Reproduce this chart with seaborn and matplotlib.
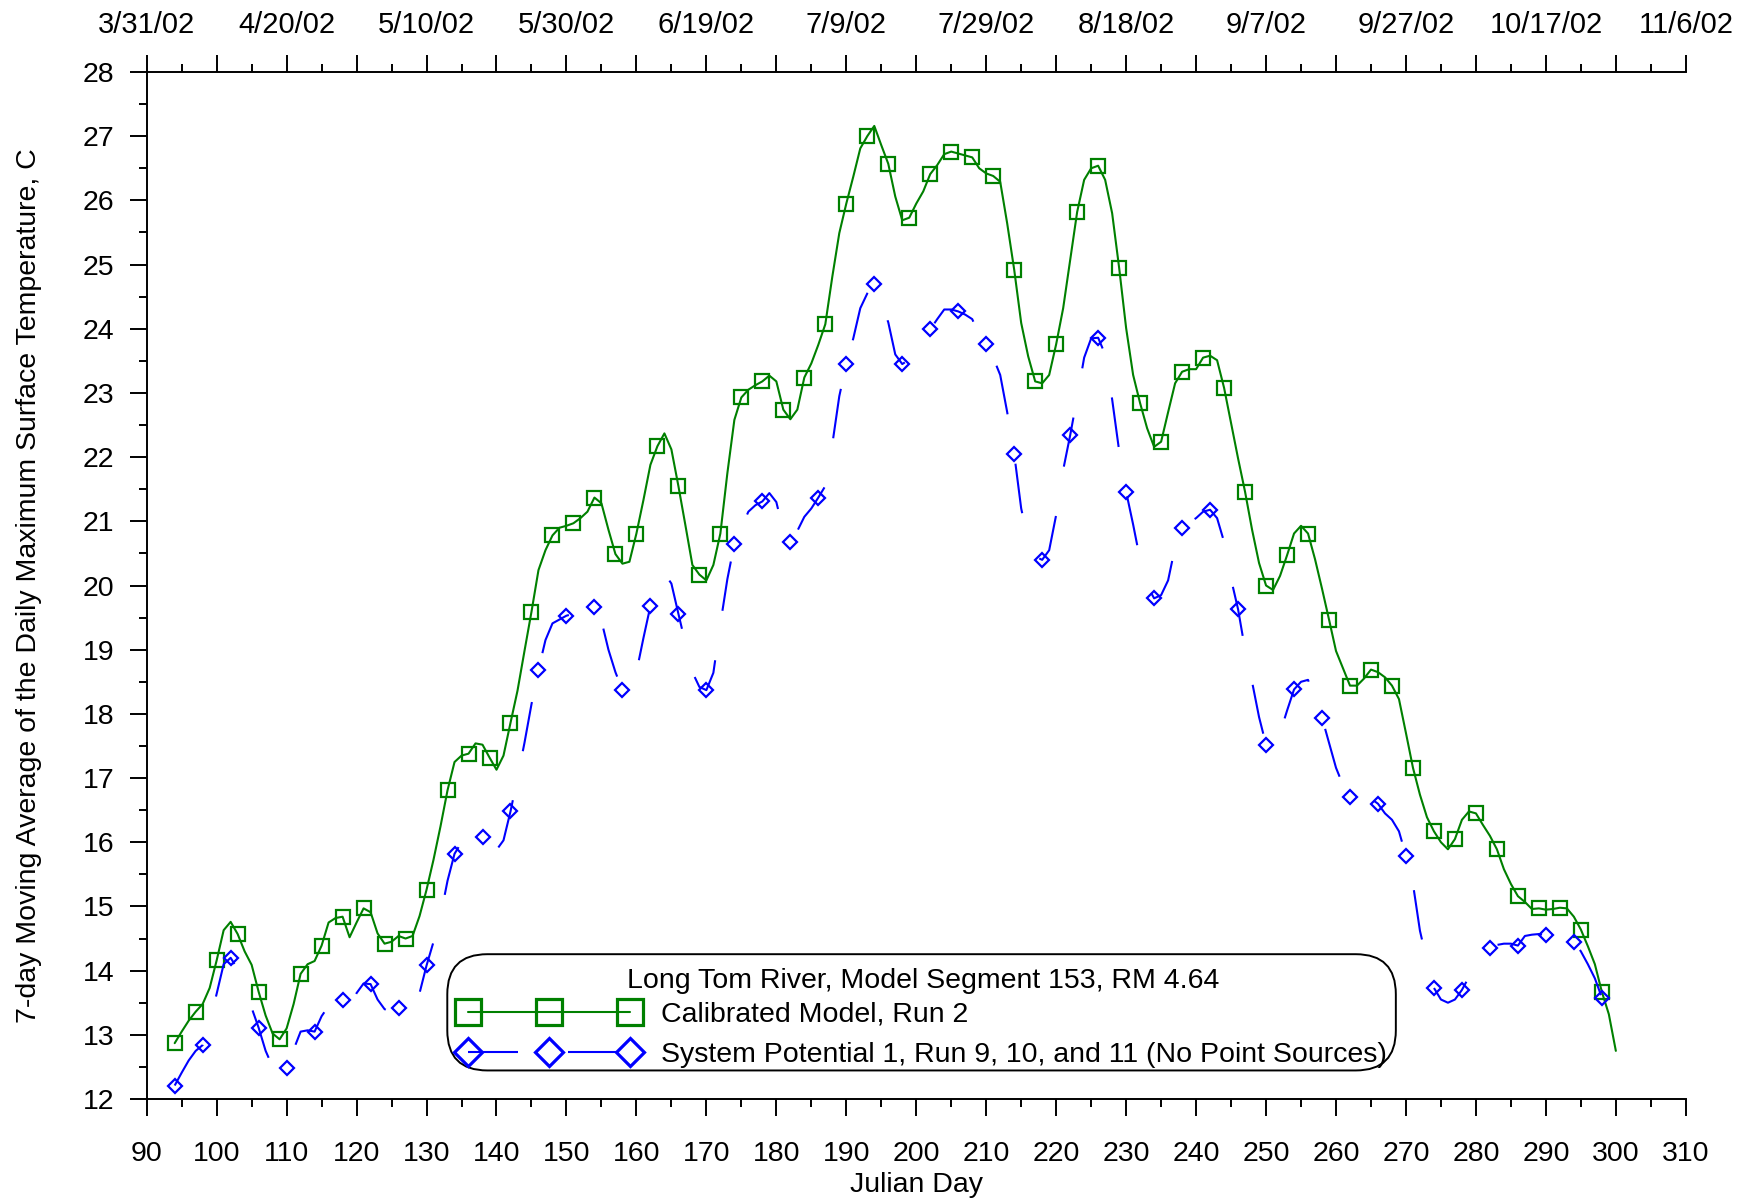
import numpy as np
import pandas as pd
import matplotlib
matplotlib.use("Agg")
import matplotlib.pyplot as plt
from matplotlib.lines import Line2D
from matplotlib.patches import FancyBboxPatch
from matplotlib.ticker import FixedLocator, MultipleLocator
import seaborn as sns

# ---------------- data ----------------
green_days = [94, 95, 96, 97, 98, 99, 100, 101, 102, 103, 104, 105, 106, 107, 108, 109, 110,
              111, 112, 113, 114, 115, 116, 117, 118, 119, 120, 121, 122, 123, 124, 125, 126,
              127, 128, 129, 130, 131, 132, 133, 134, 135, 136, 137, 138, 139, 140, 141, 142,
              143, 144, 145, 146, 147, 148, 149, 150, 151, 152, 153, 154, 155, 156, 157, 158,
              159, 160, 161, 162, 163, 164, 165, 166, 167, 168, 169, 170, 171, 172, 173, 174,
              175, 176, 177, 178, 179, 180, 181, 182, 183, 184, 185, 186, 187, 188, 189, 190,
              191, 192, 193, 194, 195, 196, 197, 198, 199, 200, 201, 202, 203, 204, 205, 206,
              207, 208, 209, 210, 211, 212, 213, 214, 215, 216, 217, 218, 219, 220, 221, 222,
              223, 224, 225, 226, 227, 228, 229, 230, 231, 232, 233, 234, 235, 236, 237, 238,
              239, 240, 241, 242, 243, 244, 245, 246, 247, 248, 249, 250, 251, 252, 253, 254,
              255, 256, 257, 258, 259, 260, 261, 262, 263, 264, 265, 266, 267, 268, 269, 270,
              271, 272, 273, 274, 275, 276, 277, 278, 279, 280, 281, 282, 283, 284, 285, 286,
              287, 288, 289, 290, 291, 292, 293, 294, 295, 296, 297, 298, 299, 300]
green_temp = [12.87, 13.05, 13.22, 13.36, 13.48, 13.73, 14.16, 14.63, 14.76, 14.57, 14.30, 14.09,
              13.67, 13.30, 13.02, 12.93, 13.10, 13.48, 13.95, 14.10, 14.15, 14.39, 14.75, 14.82,
              14.84, 14.52, 14.75, 14.97, 14.91, 14.58, 14.42, 14.45, 14.54, 14.50, 14.54, 14.85,
              15.26, 15.73, 16.25, 16.81, 17.25, 17.35, 17.38, 17.54, 17.52, 17.32, 17.13, 17.35,
              17.86, 18.36, 18.98, 19.59, 20.24, 20.55, 20.78, 20.90, 20.93, 20.97, 21.05, 21.15,
              21.37, 21.28, 20.87, 20.49, 20.34, 20.37, 20.81, 21.33, 21.88, 22.17, 22.37, 22.12,
              21.55, 20.94, 20.32, 20.17, 20.08, 20.32, 20.81, 21.75, 22.58, 22.93, 23.05, 23.12,
              23.18, 23.27, 23.18, 22.74, 22.59, 22.74, 23.24, 23.46, 23.75, 24.07, 24.81, 25.49,
              25.95, 26.37, 26.81, 27.00, 27.16, 26.86, 26.57, 26.06, 25.69, 25.73, 25.95, 26.14,
              26.41, 26.55, 26.72, 26.76, 26.73, 26.70, 26.67, 26.50, 26.42, 26.38, 26.29, 25.64,
              24.92, 24.09, 23.57, 23.18, 23.15, 23.28, 23.76, 24.32, 25.07, 25.82, 26.32, 26.50,
              26.54, 26.32, 25.80, 24.95, 24.01, 23.28, 22.84, 22.45, 22.16, 22.24, 22.70, 23.15,
              23.33, 23.37, 23.37, 23.55, 23.58, 23.51, 23.08, 22.53, 21.98, 21.46, 20.87, 20.35,
              20.00, 19.93, 20.15, 20.47, 20.81, 20.93, 20.81, 20.41, 19.95, 19.47, 18.98, 18.71,
              18.44, 18.44, 18.55, 18.69, 18.65, 18.57, 18.44, 18.23, 17.70, 17.16, 16.74, 16.39,
              16.17, 16.00, 15.89, 16.05, 16.35, 16.48, 16.45, 16.27, 16.10, 15.89, 15.58, 15.35,
              15.16, 15.07, 14.96, 14.97, 14.95, 14.96, 14.98, 14.97, 14.84, 14.64, 14.38, 14.10,
              13.67, 13.32, 12.75]

blue_days = list(range(94, 300))
blue_temp = [12.21, 12.41, 12.60, 12.75, 12.84, 13.20, 13.64, 14.10, 14.20, 14.02, 13.70, 13.42,
             13.11, 12.75, 12.50, 12.45, 12.48, 12.77, 13.05, 13.07, 13.05, 13.29, 13.45, 13.55,
             13.54, 13.42, 13.65, 13.80, 13.79, 13.55, 13.40, 13.35, 13.42, 13.35, 13.39, 13.65,
             14.08, 14.45, 14.85, 15.40, 15.82, 16.00, 16.05, 16.08, 16.08, 15.95, 15.88, 16.03,
             16.48, 17.00, 17.55, 18.15, 18.69, 19.15, 19.41, 19.47, 19.53, 19.56, 19.58, 19.62,
             19.66, 19.45, 19.00, 18.65, 18.37, 18.45, 18.65, 19.18, 19.68, 20.00, 20.19, 20.03,
             19.56, 19.10, 18.65, 18.42, 18.37, 18.64, 19.40, 20.10, 20.65, 20.90, 21.15, 21.25,
             21.31, 21.44, 21.30, 20.85, 20.68, 20.85, 21.07, 21.20, 21.37, 21.55, 22.20, 22.95,
             23.45, 23.85, 24.32, 24.55, 24.70, 24.40, 24.10, 23.60, 23.45, 23.52, 23.60, 23.80,
             23.99, 24.15, 24.30, 24.30, 24.27, 24.22, 24.15, 23.90, 23.76, 23.55, 23.28, 22.70,
             22.05, 21.20, 20.70, 20.45, 20.40, 20.55, 21.10, 21.80, 22.34, 22.93, 23.55, 23.85,
             23.86, 23.60, 22.90, 22.10, 21.46, 20.95, 20.40, 20.00, 19.80, 19.85, 20.08, 20.60,
             20.90, 20.98, 21.05, 21.15, 21.18, 21.05, 20.68, 20.10, 19.63, 19.00, 18.50, 17.95,
             17.52, 17.48, 17.70, 18.05, 18.38, 18.50, 18.53, 18.23, 17.94, 17.55, 17.16, 16.89,
             16.70, 16.65, 16.70, 16.68, 16.60, 16.45, 16.35, 16.17, 15.79, 15.35, 14.62, 14.15,
             13.73, 13.55, 13.50, 13.55, 13.70, 13.90, 14.05, 14.26, 14.36, 14.40, 14.42, 14.42,
             14.39, 14.54, 14.56, 14.57, 14.55, 14.60, 14.67, 14.55, 14.45, 14.30, 14.10, 13.88,
             13.58, 13.11]

x_ticks = list(range(90, 311, 10))
y_ticks = list(range(12, 29))
date_tick_days = list(range(90, 311, 20))
date_labels = ["3/31/02", "4/20/02", "5/10/02", "5/30/02", "6/19/02", "7/9/02",
               "7/29/02", "8/18/02", "9/7/02", "9/27/02", "10/17/02", "11/6/02"]

green_label = "Calibrated Model, Run 2"
blue_label = "System Potential 1, Run 9, 10, and 11 (No Point Sources)"
legend_title = "Long Tom River, Model Segment 153, RM 4.64"

# ---------------- style ----------------
sns.set_style("white")
plt.rcParams["font.family"] = ["Liberation Sans", "DejaVu Sans"]
plt.rcParams["lines.scale_dashes"] = False
plt.rcParams["text.color"] = "black"
plt.rcParams["axes.labelcolor"] = "black"
plt.rcParams["xtick.color"] = "black"
plt.rcParams["ytick.color"] = "black"

GREEN = "#008000"
BLUE = "#0000FF"
FS = 20.5

green_df = pd.DataFrame({"day": green_days, "temp": green_temp})
blue_df = pd.DataFrame({"day": blue_days, "temp": blue_temp})

fig = plt.figure(figsize=(17.54, 11.99), dpi=100)
AX_L, AX_B, AX_W, AX_H = 0.08364, 0.0834, 0.87748, 0.85655
ax = fig.add_axes([AX_L, AX_B, AX_W, AX_H])

g_mark = [i for i, d in enumerate(green_days) if (d - 94) % 3 == 0]
b_mark = [i for i, d in enumerate(blue_days) if (d - 94) % 4 == 0]

sns.lineplot(data=green_df, x="day", y="temp", ax=ax, color=GREEN, lw=1.5,
             estimator=None, sort=False, marker="s", markersize=9.5, mfc="none",
             mec=GREEN, mew=1.6, markevery=g_mark)
sns.lineplot(data=blue_df, x="day", y="temp", ax=ax, color=BLUE, lw=1.5,
             estimator=None, sort=False, marker="D", markersize=7, mfc="none",
             mec=BLUE, mew=1.6, markevery=b_mark, linestyle=(0, (36, 36)))

ax.set_xlim(90, 310)
ax.set_ylim(12, 28)
ax.xaxis.set_major_locator(FixedLocator(x_ticks))
ax.xaxis.set_minor_locator(MultipleLocator(5))
ax.yaxis.set_major_locator(FixedLocator(y_ticks))
ax.yaxis.set_minor_locator(MultipleLocator(0.5))
ax.set_xticklabels([str(t) for t in x_ticks])
ax.set_yticklabels([str(t) for t in y_ticks])

for side in ["left", "bottom"]:
    ax.spines[side].set_color("black")
    ax.spines[side].set_linewidth(1.4)
ax.spines["right"].set_visible(False)
ax.spines["top"].set_visible(False)

ax.tick_params(axis="both", which="major", direction="out", length=12.5, width=1.4,
               color="black", labelsize=FS, labelcolor="black")
ax.tick_params(axis="x", which="major", pad=18)
ax.tick_params(axis="y", which="major", pad=11)
ax.tick_params(axis="both", which="minor", direction="out", length=6, width=1.4,
               color="black")
ax.tick_params(axis="x", which="both", top=False, bottom=True)
ax.tick_params(axis="y", which="both", left=True, right=False)

secax = ax.secondary_xaxis("top")
secax.spines["top"].set_linewidth(1.4)
secax.spines["top"].set_color("black")
secax.xaxis.set_major_locator(FixedLocator(x_ticks))
secax.xaxis.set_minor_locator(MultipleLocator(5))
top_labels = []
for t in x_ticks:
    if t in date_tick_days:
        top_labels.append(date_labels[date_tick_days.index(t)])
    else:
        top_labels.append("")
secax.set_xticklabels(top_labels)
secax.tick_params(axis="x", which="major", direction="out", length=12.5, width=1.4,
                  labelsize=21, pad=11, colors="black")
secax.tick_params(axis="x", which="minor", direction="out", length=6, width=1.4,
                  colors="black")

ax.set_xlabel("Julian Day", fontsize=FS, labelpad=3)
ax.set_ylabel("7-day Moving Average of the Daily Maximum Surface Temperature, C",
              fontsize=FS, labelpad=29)

# ---- legend: rounded frame, centred title line, two entries ----
ax_w_px = AX_W * 1754
ax_h_px = AX_H * 1199
r_px = 40
frame = FancyBboxPatch((0.1953, 0.0278), 0.8116 - 0.1953, 0.1410 - 0.0278,
                       boxstyle=f"round,pad=0,rounding_size={r_px / ax_w_px}",
                       mutation_aspect=ax_w_px / ax_h_px, transform=ax.transAxes,
                       facecolor="white", edgecolor="black", lw=1.4, zorder=4,
                       clip_on=False)
ax.add_patch(frame)
ax.text(0.5044, 0.1150, legend_title, transform=ax.transAxes, ha="center",
        va="center", fontsize=FS, zorder=6)

g_handle = Line2D([], [], color=GREEN, lw=1.5, marker="s", markersize=19, mfc="none",
                  mec=GREEN, mew=2.3)
b_handle = Line2D([], [], color=BLUE, lw=1.5, marker="D", markersize=14, mfc="none",
                  mec=BLUE, mew=2.3, linestyle=(0, (36, 36)))
leg = ax.legend(handles=[g_handle, b_handle], labels=[green_label, blue_label],
                loc="lower left", bbox_to_anchor=(0.2030, 0.0302),
                borderaxespad=0, numpoints=3, handlelength=6.29, handletextpad=0.81,
                fontsize=FS, frameon=False, borderpad=0, labelspacing=0.5)
leg.set_zorder(6)

fig.savefig("out.png", dpi=100)
